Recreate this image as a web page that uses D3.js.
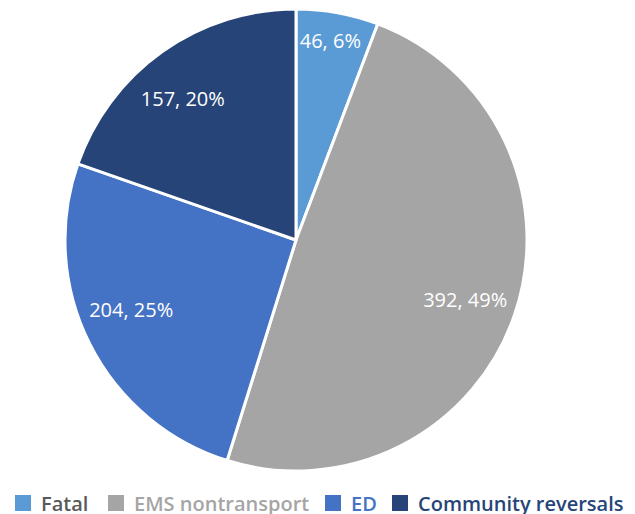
<!DOCTYPE html>
<html>
<head>
<meta charset="utf-8">
<script src="https://cdn.jsdelivr.net/npm/d3@7"></script>
<style>
  body { margin: 0; background: #fff; }
  svg { display: block; font-family: "Open Sans", sans-serif; }
</style>
</head>
<body>
<div id="chart"></div>
<script>
// data
const categories = ['Fatal', 'EMS nontransport', 'ED', 'Community reversals']
const counts = [46, 392, 204, 157]
const percents = [6, 49, 25, 20]   // as printed on the chart
const colors = ['#5b9bd5', '#a5a5a5', '#4472c4', '#264478']
const legendTextColors = ['#595959', '#a5a5a5', '#4472c4', '#264478']

const width = 635
const height = 514
const cx = 296, cy = 240, radius = 231

const rows = categories.map((c, i) => ({ name: c, value: counts[i], pct: percents[i], i }))

const svg = d3.select('#chart')
  .append('svg')
  .attr('width', width)
  .attr('height', height)

const pie = d3.pie().sort(null).value(d => d.value)
const arc = d3.arc().innerRadius(0).outerRadius(radius)
const arcs = pie(rows)

const g = svg.append('g').attr('transform', `translate(${cx},${cy})`)

g.selectAll('path')
  .data(arcs)
  .enter()
  .append('path')
  .attr('d', arc)
  .attr('fill', d => colors[d.data.i])
  .attr('stroke', '#fff')
  .attr('stroke-width', 3)
  .attr('stroke-linejoin', 'round')

// label placement: radius per slice plus a small nudge (best-fit style)
const labelR = [202, 179, 180, 180]
const nudge = [[-2, 0], [0, 2], [-4, -11], [-9, 6]]
g.selectAll('text.lbl')
  .data(arcs)
  .enter()
  .append('text')
  .attr('class', 'lbl')
  .attr('transform', d => {
    const r = labelR[d.data.i]
    const [x, y] = d3.arc().innerRadius(r).outerRadius(r).centroid(d)
    const [nx, ny] = nudge[d.data.i]
    return `translate(${x + nx},${y + ny})`
  })
  .attr('text-anchor', 'middle')
  .attr('dy', '0.35em')
  .attr('fill', '#fff')
  .style('font-size', '20px')
  .text(d => `${d.data.value}, ${d.data.pct}%`)

// legend
const legendX = [15, 108, 325, 392]
const legend = svg.selectAll('g.leg')
  .data(rows)
  .enter()
  .append('g')
  .attr('class', 'leg')
  .attr('transform', d => `translate(${legendX[d.i]}, 495)`)

legend.append('rect')
  .attr('width', 16)
  .attr('height', 16)
  .attr('fill', d => colors[d.i])

legend.append('text')
  .attr('x', 26)
  .attr('y', 16)
  .attr('fill', d => legendTextColors[d.i])
  .style('font-size', '20px')
  .style('font-weight', 600)
  .text(d => d.name)
</script>
</body>
</html>
